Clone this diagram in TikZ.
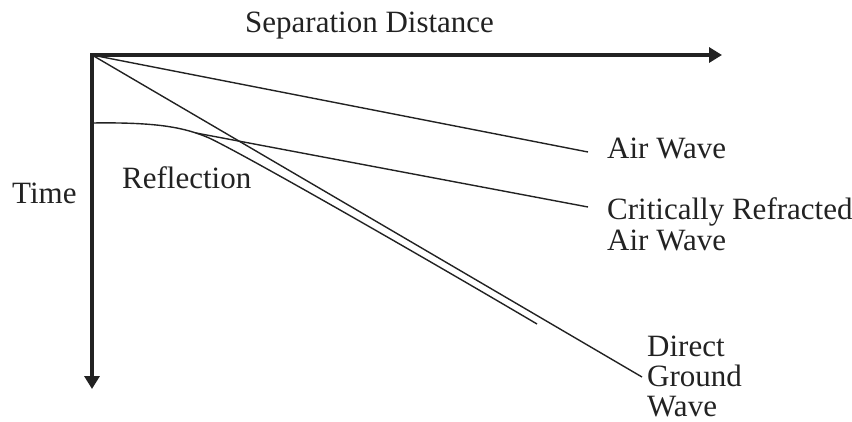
\documentclass[tikz,border=0pt]{standalone}
\usepackage{fontspec}
\setmainfont{Liberation Serif}
\usetikzlibrary{arrows.meta}
\definecolor{ink}{HTML}{222222}
\begin{document}
\begin{tikzpicture}[x=1pt,y=-1pt,
  axis/.style={line width=4.5pt, draw=ink, line join=miter,
    {Triangle[length=13pt,width=15pt]}-{Triangle[length=13pt,width=15pt]}},
  wave/.style={line width=1.4pt, draw=ink},
  lbl/.style={font=\fontsize{31}{31}\selectfont, inner sep=0pt, anchor=base west, align=left, text=ink}]
\useasboundingbox (0,0) rectangle (852,421);
\clip (0,0) rectangle (852,421);
\coordinate (O) at (92,55);
\coordinate (xend) at (722,55);
\coordinate (yend) at (92,389);
\coordinate (airend) at (588,152);
\coordinate (dirend) at (642,377);
\coordinate (r0) at (92,123);
\coordinate (rt) at (208,137.5);
\coordinate (rend) at (537,324);
\coordinate (c0) at (196,133);
\coordinate (cend) at (588,207);
% axes
\draw[axis] (yend) -- (O) -- (xend);
% waves
\draw[wave] (O) -- (airend);
\draw[wave] (O) -- (dirend);
\draw[wave] (r0) .. controls (160,122) and (185,128) .. (rt)
  .. controls (240,152) and (420,255) .. (rend);
\draw[wave] (c0) -- (cend);
% labels
\node[lbl] (sep) at (245,32) {Separation Distance};
\node[lbl] (time) at (12,203) {Time};
\node[lbl] (refl) at (122,188) {Reflection};
\node[lbl] (air) at (607,158) {Air Wave};
\node[lbl] (crit) at (607,250) {Critically Refracted\\Air Wave};
\node[lbl, font=\fontsize{31}{30}\selectfont] (dir) at (647,416) {Direct\\Ground\\Wave};
\end{tikzpicture}
\end{document}
